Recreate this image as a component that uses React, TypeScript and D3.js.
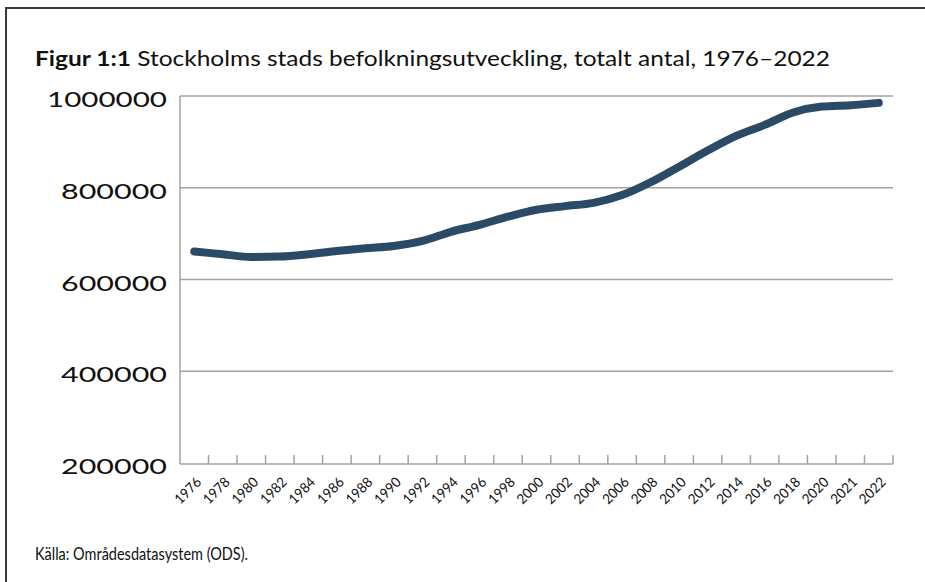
import React, { useRef, useEffect } from 'react';
import * as d3 from 'd3';

const years = ['1976', '1978', '1980', '1982', '1984', '1986', '1988', '1990', '1992', '1994', '1996', '1998', '2000',
  '2002', '2004', '2006', '2008', '2010', '2012', '2014', '2016', '2018', '2020', '2021', '2022'];
const population = [661000, 655000, 649000, 650000, 655000, 662000, 668000, 673000, 684000, 704000, 719000, 737000, 752000,
  760000, 767000, 784000, 812000, 846000, 881000, 913000, 937000, 964000, 977000, 980000, 985000];
const yTicks = [200000, 400000, 600000, 800000, 1000000];

const FONT = 'Lato, "Noto Sans", sans-serif';

const Chart: React.FC = () => {
  const svgRef = useRef<SVGSVGElement | null>(null);

  useEffect(() => {
    if (!svgRef.current) return;
    const width = 925;
    const height = 582;
    const left = 180, right = 893, top = 96, bottom = 463;

    const svg = d3.select(svgRef.current)
      .attr('width', width)
      .attr('height', height);

    // frame (top + left only)
    svg.append('path')
      .attr('d', `M6,${height} L6,8 L${width},8`)
      .attr('fill', 'none')
      .attr('stroke', '#3a3a3a')
      .attr('stroke-width', 2);

    // title
    const title = svg.append('text')
      .attr('x', 35)
      .attr('y', 66)
      .attr('font-family', FONT)
      .attr('font-size', 21)
      .attr('fill', '#111')
      .attr('textLength', 795)
      .attr('lengthAdjust', 'spacingAndGlyphs');
    title.append('tspan').attr('font-weight', 700).text('Figur 1:1');
    title.append('tspan').text(' Stockholms stads befolkningsutveckling, totalt antal, 1976–2022');

    const x = d3.scaleBand<string>()
      .domain(years)
      .range([left, right])
      .padding(0);

    const y = d3.scaleLinear()
      .domain([200000, 1000000])
      .range([bottom, top]);

    // gridlines
    svg.append('g')
      .selectAll('line')
      .data(yTicks.slice(1))
      .join('line')
      .attr('x1', left)
      .attr('x2', right)
      .attr('y1', d => y(d))
      .attr('y2', d => y(d))
      .attr('stroke', '#a3a29c')
      .attr('stroke-width', 1.5);

    // y labels
    svg.append('g')
      .selectAll('text')
      .data(yTicks)
      .join('text')
      .attr('x', 167)
      .attr('y', d => y(d) + 11)
      .attr('text-anchor', 'end')
      .attr('font-family', FONT)
      .attr('font-size', 22)
      .attr('fill', '#111')
      .attr('textLength', d => (d >= 1000000 ? 120 : 106))
      .attr('lengthAdjust', 'spacingAndGlyphs')
      .text(d => String(d));

    // axes
    svg.append('line')
      .attr('x1', left).attr('x2', left)
      .attr('y1', top).attr('y2', bottom + 1)
      .attr('stroke', '#a3a29c').attr('stroke-width', 1.5);
    svg.append('line')
      .attr('x1', left).attr('x2', right)
      .attr('y1', bottom + 1).attr('y2', bottom + 1)
      .attr('stroke', '#a3a29c').attr('stroke-width', 1.5);

    const tickPos = [...years.map(d => x(d)!), right];
    svg.append('g')
      .selectAll('line')
      .data(tickPos.slice(1))
      .join('line')
      .attr('x1', d => d).attr('x2', d => d)
      .attr('y1', bottom + 1).attr('y2', bottom - 8)
      .attr('stroke', '#a3a29c').attr('stroke-width', 1.5);

    // x labels
    const bw = x.bandwidth();
    svg.append('g')
      .selectAll('text')
      .data(years)
      .join('text')
      .attr('transform', d => `translate(${x(d)! + bw / 2 + 8},${bottom + 20}) rotate(-45)`)
      .attr('text-anchor', 'end')
      .attr('font-family', FONT)
      .attr('font-size', 14)
      .attr('fill', '#111')
      .attr('textLength', 31)
      .attr('lengthAdjust', 'spacingAndGlyphs')
      .text(d => d);

    // line
    const line = d3.line<number>()
      .x((_, i) => x(years[i])! + bw / 2)
      .y(d => y(d))
      .curve(d3.curveMonotoneX);

    svg.append('path')
      .datum(population)
      .attr('d', line)
      .attr('fill', 'none')
      .attr('stroke', '#2a4a66')
      .attr('stroke-width', 8)
      .attr('stroke-linecap', 'round')
      .attr('stroke-linejoin', 'round');

    // source
    svg.append('text')
      .attr('x', 35)
      .attr('y', 560)
      .attr('font-family', FONT)
      .attr('font-size', 17.5)
      .attr('fill', '#111')
      .attr('textLength', 213)
      .attr('lengthAdjust', 'spacingAndGlyphs')
      .text('Källa: Områdesdatasystem (ODS).');

    return () => {
      d3.select(svgRef.current).selectAll('*').remove();
    };
  }, []);

  return <svg ref={svgRef} style={{ position: 'absolute', left: 0, top: 0, background: '#fff' }}></svg>;
};

export default function App() {
  return <Chart />;
}
